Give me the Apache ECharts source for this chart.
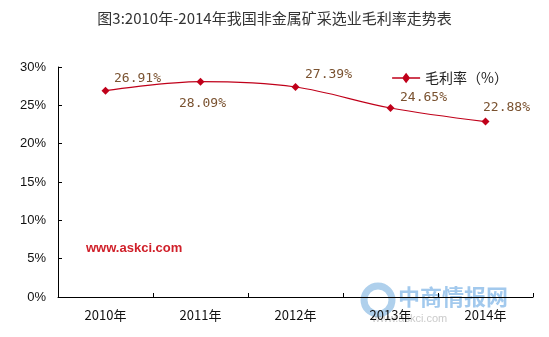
<!DOCTYPE html>
<html><head><meta charset="utf-8">
<script src="https://cdn.jsdelivr.net/npm/echarts@6/dist/echarts.min.js"></script>
<style>html,body{margin:0;padding:0;background:#fff}#c{width:549px;height:337px}</style>
</head><body><div id="c"></div>
<script>
var categories = ['2010年','2011年','2012年','2013年','2014年'];
var grossMargin = [26.91, 28.09, 27.39, 24.65, 22.88];
var yTicks = [0,5,10,15,20,25,30];

var labelLayout = [
  {position:'top', offset:[32, 3]},
  {position:'bottom', offset:[2, 6]},
  {position:'top', offset:[33, 3]},
  {position:'top', offset:[33, 5]},
  {position:'top', offset:[21, 2]}
];

var chart = echarts.init(document.getElementById('c'));
var monoFont = '"DejaVu Sans Mono", "Liberation Mono", monospace';
chart.setOption({
  backgroundColor: '#fff',
  animation: false,
  title: {
    text: '图3:2010年-2014年我国非金属矿采选业毛利率走势表',
    left: 'center', top: 6,
    textStyle: {fontFamily: '"Noto Sans CJK SC"', fontSize: 15, fontWeight: 'normal', color: '#333'}
  },
  legend: {
    right: 36, top: 66, itemWidth: 28, itemHeight: 8, itemGap: 4,
    icon: 'path://M0,4 L11,4 L14,0 L17,4 L28,4 L17,4 L14,8 L11,4 Z',
    data: [{name: '毛利率（%）', itemStyle:{color:'#c0001a', borderColor:'#c0001a', borderWidth:1.5}}],
    textStyle: {fontFamily: '"Noto Sans CJK SC"', fontSize: 14, color: '#222'}
  },
  grid: {left: 58, right: 16, top: 67, bottom: 40, containLabel: false},
  xAxis: {
    type: 'category', data: categories, boundaryGap: true,
    axisLine: {lineStyle: {color: '#000', width: 1}},
    axisTick: {show: true, length: 4, inside: true, lineStyle:{color:'#000'}},
    axisLabel: {fontFamily: '"Noto Sans CJK SC"', fontSize: 13, color: '#111', margin: 12}
  },
  yAxis: {
    type: 'value', min: 0, max: 30, interval: 5,
    axisLine: {show: true, lineStyle: {color: '#000'}},
    axisTick: {show: true, inside: true, length: 4, lineStyle:{color:'#000'}},
    splitLine: {show: false},
    axisLabel: {formatter: '{value}%', fontFamily: '"Liberation Sans", Arial', fontSize: 13, color: '#111', margin: 12}
  },
  graphic: [
    {type: 'text', left: 86, top: 242, style: {text: 'www.askci.com', fill: '#d0202a', font: 'bold 13px "Liberation Sans", Arial'}},
    {type: 'circle', shape: {cx: 378, cy: 300, r: 14}, style: {fill: 'none', stroke: 'rgba(110,170,220,0.55)', lineWidth: 7}},
    {type: 'text', left: 398, top: 286, style: {text: '中商情报网', fill: 'rgba(100,165,225,0.6)', font: 'bold 22px "Noto Sans CJK SC"'}},
    {type: 'text', left: 372, top: 313, style: {text: 'www.askci.com', fill: 'rgba(150,150,150,0.5)', font: '11px "Liberation Sans", Arial'}}
  ],
  series: [{
    name: '毛利率（%）', type: 'line', smooth: 0.35,
    data: grossMargin.map(function(v, i){
      return {value: v, label: labelLayout[i]};
    }),
    symbol: 'diamond', symbolSize: 8,
    lineStyle: {color: '#c0001a', width: 1.2},
    itemStyle: {color: '#c0001a'},
    label: {show: true, formatter: function(p){return p.value.toFixed(2) + '%';},
      fontFamily: monoFont, fontSize: 13, color: '#7a5230'}
  }]
});
</script></body></html>
